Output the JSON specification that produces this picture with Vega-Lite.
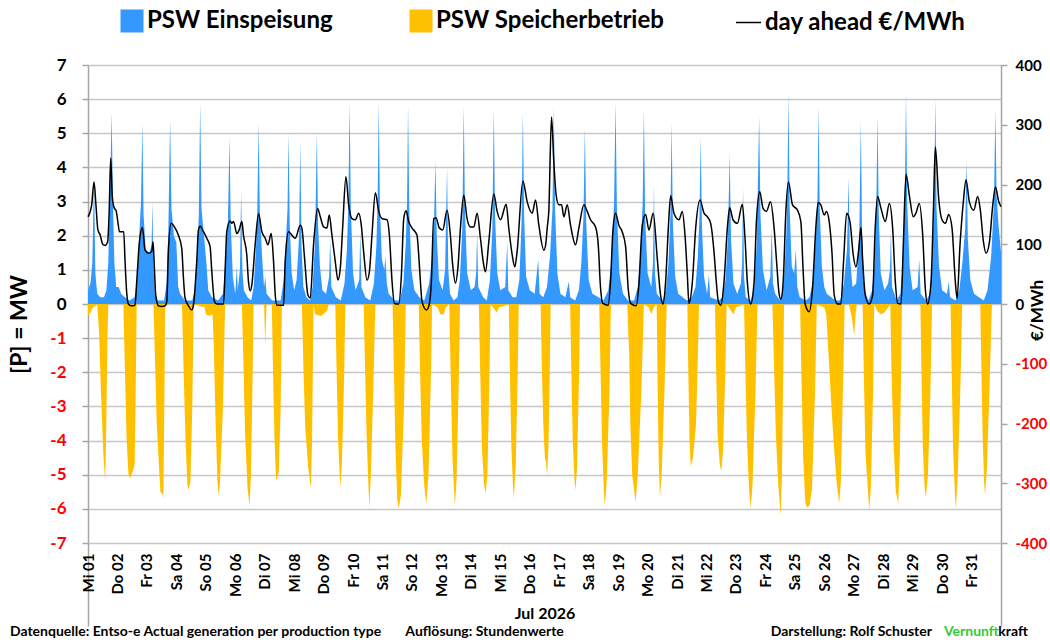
{
  "$schema": "https://vega.github.io/schema/vega-lite/v6.json",
  "description": "PSW Einspeisung / Speicherbetrieb und day-ahead Preis, Juli 2026, Stundenwerte",
  "width": 913,
  "height": 478,
  "autosize": {"type": "none"},
  "padding": {"left": 88, "top": 65, "right": 49, "bottom": 97},
  "background": "white",
  "config": {
    "view": {"stroke": null},
    "font": "Lato",
    "text": {"font": "Lato"}
  },
  "datasets": {
    "ein": [
      {"h":0,"v":0.4},{"h":2,"v":0.6},{"h":3.5,"v":1.2},{"h":4.9,"v":3.7},{"h":6,"v":0.9},{"h":7.5,"v":0.3},{"h":10,"v":0.2},{"h":13,"v":0.2},{"h":15,"v":0.4},{"h":16.5,"v":1.2},{"h":17.8,"v":3.0},{"h":19.3,"v":5.6},{"h":20.3,"v":3.0},{"h":21.5,"v":1.2},{"h":23,"v":0.5},
      {"h":25,"v":0.5},{"h":27,"v":0.3},{"h":30,"v":0.2},{"h":34,"v":0.1},{"h":38,"v":0.2},{"h":40,"v":0.7},{"h":41.5,"v":1.8},{"h":43.2,"v":3.0},{"h":44.3,"v":5.3},{"h":45.3,"v":2.6},{"h":47,"v":1.6},{"h":50,"v":1.5},{"h":51.8,"v":1.7},{"h":52.5,"v":3.0},{"h":53.2,"v":1.2},
      {"h":54.5,"v":0.3},{"h":57,"v":0.1},{"h":62,"v":0.1},{"h":64,"v":0.6},{"h":65.5,"v":2.2},{"h":66.9,"v":5.4},{"h":68,"v":2.8},{"h":70,"v":2.0},{"h":72,"v":1.8},{"h":73.5,"v":0.5},
      {"h":75,"v":0.3},{"h":79,"v":0.1},{"h":85,"v":0.1},{"h":87,"v":0.4},{"h":89,"v":1.4},{"h":90.3,"v":2.6},{"h":91.4,"v":5.9},{"h":92.5,"v":2.8},{"h":94.5,"v":2.0},{"h":96.5,"v":1.2},{"h":98,"v":0.4},
      {"h":101,"v":0.2},{"h":106,"v":0.1},{"h":110,"v":0.3},{"h":112,"v":1.2},{"h":114,"v":2.4},{"h":115.3,"v":4.9},{"h":116.3,"v":2.4},{"h":118,"v":0.8},{"h":120,"v":0.3},{"h":121.3,"v":1.1},{"h":122,"v":0.4},{"h":123.8,"v":1.0},{"h":124.8,"v":3.3},{"h":125.8,"v":1.0},{"h":127,"v":0.4},
      {"h":130,"v":0.2},{"h":133,"v":0.1},{"h":135,"v":0.5},{"h":137,"v":1.7},{"h":138,"v":2.8},{"h":139,"v":5.3},{"h":140,"v":2.7},{"h":142,"v":1.3},{"h":143.5,"v":0.5},{"h":144.5,"v":0.8},{"h":145.5,"v":0.3},
      {"h":150,"v":0.1},{"h":157,"v":0.1},{"h":159.5,"v":0.7},{"h":161.5,"v":2.0},{"h":162.6,"v":2.8},{"h":163.4,"v":5.0},{"h":164.4,"v":2.3},{"h":166,"v":0.9},{"h":168,"v":0.4},{"h":170,"v":0.7},{"h":172,"v":2.0},{"h":173,"v":4.75},{"h":174,"v":1.7},{"h":175.5,"v":0.5},
      {"h":178,"v":0.2},{"h":181,"v":0.1},{"h":183,"v":0.5},{"h":185,"v":1.8},{"h":186.5,"v":5.0},{"h":187.5,"v":2.3},{"h":189,"v":1.1},{"h":191,"v":0.4},{"h":194,"v":0.3},{"h":196.5,"v":0.8},{"h":197.4,"v":1.9},{"h":198.3,"v":0.5},
      {"h":202,"v":0.2},{"h":206,"v":0.1},{"h":209,"v":0.6},{"h":211,"v":1.6},{"h":212.2,"v":3.0},{"h":213.2,"v":5.9},{"h":214.2,"v":2.8},{"h":216,"v":0.9},{"h":218,"v":0.4},{"h":221,"v":0.7},{"h":221.9,"v":2.1},{"h":222.8,"v":0.5},
      {"h":226,"v":0.2},{"h":230,"v":0.1},{"h":233,"v":0.6},{"h":235,"v":1.7},{"h":236,"v":3.0},{"h":236.9,"v":5.9},{"h":237.9,"v":2.8},{"h":239.5,"v":1.3},{"h":241.5,"v":1.0},{"h":242.3,"v":1.4},{"h":243.5,"v":0.6},{"h":245,"v":0.3},
      {"h":250,"v":0.1},{"h":254,"v":0.1},{"h":257,"v":0.6},{"h":259,"v":1.8},{"h":260,"v":3.0},{"h":260.8,"v":5.8},{"h":261.8,"v":2.8},{"h":263.5,"v":1.0},{"h":266,"v":0.4},
      {"h":270,"v":0.2},{"h":274,"v":0.1},{"h":278,"v":0.6},{"h":280.5,"v":1.4},{"h":282,"v":2.4},{"h":283.1,"v":4.2},{"h":284.2,"v":2.0},{"h":286,"v":0.7},{"h":289,"v":0.4},{"h":291,"v":1.0},{"h":292.6,"v":4.0},{"h":293.6,"v":1.0},{"h":295,"v":0.3},
      {"h":298,"v":0.1},{"h":301,"v":0.2},{"h":303,"v":0.7},{"h":305,"v":2.2},{"h":306.2,"v":5.8},{"h":307.2,"v":2.7},{"h":309,"v":0.9},{"h":312,"v":0.4},{"h":315,"v":0.5},{"h":316.3,"v":0.9},{"h":317.1,"v":2.1},{"h":318,"v":0.5},
      {"h":322,"v":0.2},{"h":325,"v":0.1},{"h":327.5,"v":0.7},{"h":329.5,"v":2.2},{"h":330.7,"v":5.7},{"h":331.7,"v":2.6},{"h":333.5,"v":0.9},{"h":336,"v":0.4},{"h":340,"v":0.5},{"h":341.6,"v":1.8},{"h":342.5,"v":0.4},
      {"h":346,"v":0.2},{"h":349,"v":0.2},{"h":351.5,"v":0.7},{"h":353.3,"v":2.4},{"h":354.4,"v":5.6},{"h":355.4,"v":2.6},{"h":357,"v":0.8},{"h":360,"v":0.4},{"h":364,"v":0.3},{"h":366.9,"v":1.3},{"h":368,"v":0.3},
      {"h":371,"v":0.2},{"h":374,"v":0.5},{"h":376.5,"v":1.4},{"h":378.5,"v":2.8},{"h":379.6,"v":5.8},{"h":380.6,"v":2.8},{"h":382.5,"v":0.9},{"h":385,"v":0.3},{"h":389,"v":0.2},{"h":391.8,"v":0.65},{"h":393,"v":0.2},
      {"h":397,"v":0.1},{"h":400,"v":0.4},{"h":402,"v":1.2},{"h":403.8,"v":2.6},{"h":404.9,"v":5.15},{"h":406,"v":2.4},{"h":408,"v":0.7},{"h":411,"v":0.3},
      {"h":416,"v":0.2},{"h":420,"v":0.1},{"h":424,"v":0.4},{"h":426.5,"v":1.2},{"h":428.7,"v":3.0},{"h":429.9,"v":5.9},{"h":431,"v":2.8},{"h":433,"v":0.9},{"h":436,"v":0.3},
      {"h":440,"v":0.1},{"h":445,"v":0.1},{"h":448,"v":0.5},{"h":450.5,"v":1.6},{"h":452,"v":3.0},{"h":453,"v":5.7},{"h":454,"v":2.6},{"h":456,"v":0.9},{"h":459,"v":0.5},{"h":460.4,"v":1.2},{"h":461.2,"v":3.5},{"h":462,"v":0.9},{"h":463.5,"v":0.3},
      {"h":468,"v":0.1},{"h":471,"v":0.4},{"h":473,"v":1.2},{"h":474.6,"v":2.6},{"h":475.6,"v":5.3},{"h":476.6,"v":2.4},{"h":478.5,"v":0.8},{"h":481,"v":0.3},
      {"h":488,"v":0.1},{"h":492,"v":0.2},{"h":495,"v":0.5},{"h":497,"v":1.4},{"h":498.3,"v":2.6},{"h":499.3,"v":4.9},{"h":500.3,"v":2.3},{"h":502,"v":0.8},{"h":504.5,"v":0.3},{"h":506,"v":0.85},{"h":507,"v":0.2},
      {"h":514,"v":0.1},{"h":517,"v":0.2},{"h":519.5,"v":0.7},{"h":521.5,"v":2.0},{"h":522.9,"v":4.4},{"h":524,"v":1.9},{"h":526,"v":0.6},{"h":529,"v":0.3},{"h":532,"v":0.6},{"h":533,"v":1.2},{"h":533.8,"v":3.4},{"h":534.6,"v":0.8},{"h":536,"v":0.2},
      {"h":540,"v":0.1},{"h":543,"v":0.5},{"h":545,"v":1.8},{"h":546.9,"v":5.5},{"h":548,"v":2.6},{"h":550,"v":1.0},{"h":553,"v":0.4},{"h":556,"v":0.8},{"h":557.2,"v":2.2},{"h":558.2,"v":0.6},{"h":560,"v":0.3},
      {"h":564,"v":0.1},{"h":567,"v":0.6},{"h":569,"v":2.0},{"h":569.9,"v":3.2},{"h":570.8,"v":6.15},{"h":571.8,"v":2.8},{"h":573.5,"v":1.1},{"h":575.5,"v":0.9},{"h":576.8,"v":1.6},{"h":578,"v":0.5},{"h":580,"v":0.2},
      {"h":585,"v":0.1},{"h":588,"v":0.2},{"h":591,"v":0.7},{"h":593.5,"v":2.2},{"h":594.5,"v":3.2},{"h":595.3,"v":5.8},{"h":596.3,"v":2.8},{"h":598,"v":1.1},{"h":600,"v":0.5},{"h":602,"v":0.3},
      {"h":609,"v":0.1},{"h":613,"v":0.1},{"h":616,"v":0.6},{"h":618.5,"v":1.6},{"h":619.8,"v":3.7},{"h":620.8,"v":1.4},{"h":623,"v":0.5},{"h":626,"v":0.6},{"h":628.5,"v":2.0},{"h":629.8,"v":5.35},{"h":630.8,"v":2.0},{"h":632.5,"v":0.4},
      {"h":636,"v":0.1},{"h":639,"v":0.4},{"h":641,"v":1.2},{"h":642.3,"v":2.6},{"h":643.4,"v":5.5},{"h":644.4,"v":2.6},{"h":646,"v":0.9},{"h":649,"v":0.4},{"h":652,"v":0.6},{"h":653.5,"v":1.0},{"h":654.3,"v":2.1},{"h":655.2,"v":0.5},
      {"h":659,"v":0.1},{"h":662,"v":0.3},{"h":664,"v":1.2},{"h":665.6,"v":3.0},{"h":666.6,"v":6.15},{"h":667.6,"v":2.9},{"h":669.5,"v":1.1},{"h":672,"v":0.4},{"h":676,"v":0.5},{"h":677.4,"v":1.3},{"h":678.5,"v":0.3},
      {"h":683,"v":0.1},{"h":686,"v":0.3},{"h":688,"v":1.2},{"h":689.5,"v":3.0},{"h":690.5,"v":6.0},{"h":691.5,"v":2.8},{"h":693.5,"v":1.1},{"h":696,"v":0.4},{"h":700,"v":0.3},{"h":701.4,"v":0.65},{"h":702.5,"v":0.2},
      {"h":707,"v":0.1},{"h":710,"v":0.4},{"h":712.5,"v":1.2},{"h":714.8,"v":2.2},{"h":716,"v":4.2},{"h":717,"v":1.9},{"h":719,"v":0.7},{"h":722,"v":0.3},
      {"h":726,"v":0.2},{"h":730,"v":0.1},{"h":733,"v":0.4},{"h":736,"v":1.4},{"h":738.3,"v":3.0},{"h":739.4,"v":5.7},{"h":740.4,"v":3.2},{"h":742,"v":2.3},{"h":744,"v":1.5}
    ],
    "spe": [
      {"h":0,"v":-0.35},{"h":2,"v":-0.25},{"h":4,"v":-0.1},{"h":6.5,"v":-0.05},
      {"h":7.5,"v":0},{"h":9,"v":-0.8},{"h":10.5,"v":-2.5},{"h":12.5,"v":-4.4},{"h":14,"v":-5.2},{"h":14.8,"v":-3.8},{"h":15.8,"v":-1.0},{"h":16.6,"v":0},
      {"h":28.8,"v":0},{"h":30,"v":-1.8},{"h":31.5,"v":-4.0},{"h":33,"v":-5.0},{"h":34.3,"v":-5.1},{"h":36.5,"v":-4.9},{"h":38,"v":-4.7},{"h":39,"v":-2.0},{"h":39.7,"v":0},
      {"h":53.3,"v":0},{"h":54.5,"v":-1.5},{"h":56,"v":-3.5},{"h":59,"v":-5.5},{"h":60.5,"v":-5.55},{"h":61.4,"v":-5.7},{"h":62.2,"v":-3.0},{"h":62.8,"v":0},
      {"h":76.6,"v":0},{"h":77.8,"v":-1.8},{"h":79.5,"v":-4.0},{"h":81,"v":-5.3},{"h":81.8,"v":-5.45},{"h":83.5,"v":-5.2},{"h":85,"v":-3.0},{"h":86.1,"v":0},
      {"h":95,"v":-0.1},{"h":96,"v":-0.3},{"h":99,"v":-0.35},{"h":101.5,"v":-0.3},{"h":102.5,"v":-1.2},{"h":104,"v":-3.5},{"h":105.5,"v":-5.2},{"h":106.3,"v":-5.6},{"h":107.5,"v":-5.3},{"h":110,"v":-3.0},{"h":111.7,"v":0},
      {"h":125.4,"v":0},{"h":126.5,"v":-1.5},{"h":128,"v":-3.8},{"h":130,"v":-5.4},{"h":131.6,"v":-5.9},{"h":132.8,"v":-5.0},{"h":134,"v":-2.5},{"h":134.9,"v":0},
      {"h":143.5,"v":0},{"h":144.4,"v":-1.2},{"h":145.5,"v":0},
      {"h":149.8,"v":0},{"h":150.8,"v":-2.0},{"h":152,"v":-4.0},{"h":153.2,"v":-5.1},{"h":153.9,"v":-5.15},{"h":155.5,"v":-4.9},{"h":157,"v":-3.0},{"h":158,"v":0},
      {"h":174.3,"v":0},{"h":175.5,"v":-1.8},{"h":177,"v":-3.6},{"h":179.5,"v":-4.8},{"h":181.6,"v":-5.4},{"h":182.6,"v":-4.0},{"h":183.8,"v":0},{"h":185,"v":-0.3},{"h":190,"v":-0.35},{"h":195,"v":-0.2},{"h":196,"v":0},
      {"h":201.5,"v":0},{"h":202.5,"v":-1.8},{"h":203.8,"v":-4.0},{"h":205.6,"v":-5.4},{"h":207,"v":-4.6},{"h":208.8,"v":-2.0},{"h":209.7,"v":0},
      {"h":224.6,"v":0},{"h":225.6,"v":-1.6},{"h":227,"v":-3.8},{"h":228.5,"v":-5.3},{"h":229.3,"v":-5.95},{"h":230.5,"v":-5.0},{"h":232.5,"v":-2.5},{"h":234.1,"v":0},
      {"h":248.2,"v":0},{"h":249.2,"v":-1.8},{"h":250.5,"v":-4.2},{"h":252,"v":-5.7},{"h":253.2,"v":-6.0},{"h":255,"v":-5.6},{"h":257.5,"v":-3.0},{"h":259,"v":0},
      {"h":269.5,"v":0},{"h":270.5,"v":-1.8},{"h":272,"v":-4.0},{"h":274,"v":-5.3},{"h":275.7,"v":-5.85},{"h":277.5,"v":-5.0},{"h":279.5,"v":-2.0},{"h":280.4,"v":0},
      {"h":285,"v":-0.1},{"h":287,"v":-0.3},{"h":290,"v":-0.3},{"h":291.5,"v":-0.1},{"h":294.4,"v":0},{"h":295.5,"v":-2.0},{"h":297,"v":-4.5},{"h":298.9,"v":-5.9},{"h":300.3,"v":-5.2},{"h":302.3,"v":-2.0},{"h":303.1,"v":0},
      {"h":318.5,"v":0},{"h":319.5,"v":-1.8},{"h":321,"v":-4.2},{"h":322.8,"v":-5.3},{"h":323.9,"v":-5.55},{"h":325.5,"v":-5.0},{"h":327.2,"v":-2.0},{"h":328,"v":0},{"h":331,"v":-0.15},{"h":333,"v":-0.25},{"h":335,"v":-0.1},
      {"h":342.9,"v":0},{"h":343.8,"v":-2.0},{"h":345,"v":-4.2},{"h":346.3,"v":-5.3},{"h":347,"v":-5.7},{"h":348.5,"v":-4.8},{"h":350.2,"v":-2.0},{"h":351,"v":0},
      {"h":368.8,"v":0},{"h":369.8,"v":-1.8},{"h":371,"v":-3.5},{"h":372.3,"v":-4.5},{"h":373,"v":-4.6},{"h":374.2,"v":-5.0},{"h":375.2,"v":-4.2},{"h":376.3,"v":-2.0},{"h":377,"v":0},
      {"h":392.9,"v":0},{"h":393.8,"v":-1.8},{"h":395,"v":-4.0},{"h":396.5,"v":-5.2},{"h":397.3,"v":-5.45},{"h":398.5,"v":-4.8},{"h":400.2,"v":-2.0},{"h":401,"v":0},
      {"h":416.6,"v":0},{"h":417.6,"v":-1.8},{"h":419,"v":-4.2},{"h":420.5,"v":-5.6},{"h":421.2,"v":-5.9},{"h":422.7,"v":-5.2},{"h":425,"v":-2.5},{"h":426.1,"v":0},
      {"h":439.4,"v":0},{"h":440.2,"v":-0.8},{"h":441,"v":-1.4},{"h":442,"v":-3.6},{"h":443.5,"v":-5.0},{"h":445.5,"v":-5.6},{"h":446.2,"v":-5.8},{"h":448,"v":-5.0},{"h":451,"v":-2.5},{"h":453,"v":0},
      {"h":457,"v":-0.1},{"h":459,"v":-0.3},{"h":461,"v":-0.1},{"h":463.4,"v":0},{"h":464.2,"v":-2.5},{"h":465.2,"v":-4.8},{"h":466.1,"v":-5.65},{"h":467.5,"v":-5.0},{"h":469.8,"v":-2.5},{"h":471.6,"v":0},
      {"h":488.4,"v":0},{"h":489.2,"v":-2.0},{"h":490.2,"v":-4.0},{"h":491.1,"v":-4.75},{"h":493,"v":-4.5},{"h":495.5,"v":-3.5},{"h":497,"v":-1.5},{"h":497.9,"v":0},
      {"h":510.9,"v":0},{"h":511.8,"v":-1.8},{"h":513,"v":-3.8},{"h":514.8,"v":-4.7},{"h":516.1,"v":-4.9},{"h":517.5,"v":-4.3},{"h":519.5,"v":-1.8},{"h":520.4,"v":0},{"h":524,"v":-0.2},{"h":526,"v":-0.3},{"h":528,"v":-0.1},
      {"h":534.6,"v":0},{"h":535.6,"v":-1.8},{"h":537,"v":-4.0},{"h":538.8,"v":-5.5},{"h":540.1,"v":-6.0},{"h":541.5,"v":-5.3},{"h":544,"v":-2.5},{"h":545.5,"v":0},
      {"h":557.7,"v":0},{"h":558.8,"v":-1.5},{"h":560.5,"v":-3.8},{"h":562.5,"v":-5.3},{"h":564.5,"v":-6.2},{"h":565.5,"v":-5.0},{"h":566.5,"v":-2.0},{"h":567.2,"v":0},
      {"h":580.3,"v":0},{"h":581.3,"v":-2.0},{"h":582.8,"v":-4.5},{"h":584.5,"v":-5.8},{"h":585.7,"v":-5.95},{"h":588,"v":-5.9},{"h":590,"v":-5.4},{"h":592.5,"v":-2.5},{"h":593.9,"v":0},
      {"h":600,"v":-0.1},{"h":601.6,"v":-0.3},{"h":603.5,"v":-1.5},{"h":605.5,"v":-2.8},{"h":607.5,"v":-4.0},{"h":610,"v":-5.2},{"h":612.1,"v":-5.85},{"h":613.5,"v":-5.2},{"h":615.5,"v":-2.0},{"h":616.6,"v":0},
      {"h":620,"v":0},{"h":622.5,"v":-0.4},{"h":624.4,"v":-0.93},{"h":625.5,"v":-0.3},{"h":626.5,"v":0},
      {"h":631.2,"v":0},{"h":632.2,"v":-2.0},{"h":633.5,"v":-4.3},{"h":634.7,"v":-5.0},{"h":636.6,"v":-6.05},{"h":638,"v":-5.3},{"h":639.8,"v":-2.5},{"h":640.7,"v":0},{"h":643,"v":-0.2},{"h":646,"v":-0.3},{"h":649,"v":-0.25},{"h":652,"v":-0.1},
      {"h":653.8,"v":0},{"h":654.8,"v":-2.0},{"h":656.3,"v":-4.0},{"h":658.3,"v":-5.5},{"h":660.3,"v":-5.85},{"h":661.5,"v":-4.5},{"h":662.6,"v":-2.0},{"h":663.3,"v":0},
      {"h":678.3,"v":0},{"h":679.2,"v":-2.0},{"h":680.3,"v":-4.2},{"h":681.8,"v":-5.4},{"h":682.8,"v":-5.65},{"h":684.5,"v":-5.0},{"h":686.5,"v":-2.5},{"h":687.8,"v":0},
      {"h":702.9,"v":0},{"h":703.8,"v":-2.0},{"h":705,"v":-4.3},{"h":706.5,"v":-5.6},{"h":707.3,"v":-6.0},{"h":708.8,"v":-5.0},{"h":711,"v":-2.3},{"h":712.4,"v":0},
      {"h":727.1,"v":0},{"h":728,"v":-1.8},{"h":729,"v":-3.8},{"h":730.2,"v":-5.2},{"h":731,"v":-5.6},{"h":732.5,"v":-4.8},{"h":735,"v":-2.0},{"h":736.6,"v":0},{"h":744,"v":0}
    ],
    "preis": [
      {"h":0,"p":146},{"h":3,"p":166},{"h":4.9,"p":204},{"h":6.5,"p":165},{"h":8,"p":125},{"h":10,"p":115},{"h":12,"p":100},{"h":14,"p":98},{"h":16,"p":104},{"h":17.2,"p":150},{"h":18.5,"p":244},{"h":19.8,"p":180},{"h":21.5,"p":160},{"h":22.8,"p":157},
      {"h":24.5,"p":135},{"h":25.6,"p":121},{"h":29.1,"p":121},{"h":30.2,"p":71},{"h":31.5,"p":20},{"h":32.9,"p":0},{"h":35,"p":-3},{"h":38.3,"p":-2},{"h":39.7,"p":37},{"h":41.9,"p":104},{"h":44.3,"p":128},{"h":46.5,"p":90},
      {"h":49.2,"p":85},{"h":51.9,"p":88},{"h":53,"p":104},{"h":54.1,"p":60},{"h":55.2,"p":15},{"h":57.4,"p":-3},{"h":60,"p":-4},{"h":62.8,"p":-3},{"h":64.2,"p":4},{"h":65.5,"p":88},{"h":67.7,"p":135},{"h":71,"p":127},
      {"h":73.7,"p":115},{"h":76.4,"p":93},{"h":77.8,"p":43},{"h":79.1,"p":10},{"h":81.9,"p":-3},{"h":84.6,"p":-10},{"h":85.9,"p":-2},{"h":88.6,"p":71},{"h":90,"p":124},{"h":91.4,"p":130},{"h":94.1,"p":121},
      {"h":96.8,"p":110},{"h":99.5,"p":96},{"h":100.9,"p":54},{"h":103.1,"p":4},{"h":105,"p":0},{"h":110.4,"p":0},{"h":111.8,"p":60},{"h":113.1,"p":121},{"h":115.8,"p":139},{"h":117.2,"p":135},{"h":118.6,"p":138},
      {"h":121.3,"p":118},{"h":123.2,"p":124},{"h":125.4,"p":138},{"h":126.7,"p":115},{"h":129.4,"p":82},{"h":130.8,"p":37},{"h":132.2,"p":22},{"h":133.5,"p":32},{"h":136.2,"p":99},{"h":139,"p":151},{"h":141.7,"p":121},
      {"h":144.4,"p":110},{"h":146.6,"p":99},{"h":149.3,"p":118},{"h":151.2,"p":71},{"h":152.6,"p":15},{"h":153.9,"p":-2},{"h":159.4,"p":-2},{"h":160.7,"p":71},{"h":163.4,"p":121},{"h":166.2,"p":115},
      {"h":168.9,"p":110},{"h":173,"p":132},{"h":174.3,"p":127},{"h":176.5,"p":76},{"h":179.2,"p":15},{"h":181.1,"p":10},{"h":183.8,"p":99},{"h":187.1,"p":160},{"h":189.3,"p":146},
      {"h":192,"p":129},{"h":194.7,"p":127},{"h":196.6,"p":149},{"h":198.8,"p":115},{"h":201.5,"p":71},{"h":203.7,"p":40},{"h":205.6,"p":60},{"h":207.5,"p":127},{"h":210.2,"p":213},{"h":212.4,"p":166},{"h":215.1,"p":143},
      {"h":217.8,"p":141},{"h":220.6,"p":152},{"h":222.7,"p":132},{"h":224.6,"p":88},{"h":227.4,"p":40},{"h":229.3,"p":54},{"h":231.4,"p":115},{"h":234.2,"p":186},{"h":236.9,"p":155},{"h":239.6,"p":143},
      {"h":243.7,"p":141},{"h":245.6,"p":115},{"h":247.8,"p":37},{"h":249.7,"p":1},{"h":253.2,"p":0},{"h":255.4,"p":49},{"h":257.3,"p":143},{"h":259.2,"p":156},{"h":261.3,"p":138},{"h":264.1,"p":127},
      {"h":268.1,"p":115},{"h":269.5,"p":82},{"h":270.9,"p":37},{"h":272.2,"p":4},{"h":275.8,"p":-10},{"h":277.7,"p":-4},{"h":279.8,"p":37},{"h":281.7,"p":143},{"h":283.6,"p":144},{"h":286.4,"p":127},
      {"h":289.1,"p":124},{"h":292.6,"p":157},{"h":295.3,"p":115},{"h":297.2,"p":65},{"h":299.4,"p":35},{"h":301.6,"p":65},{"h":303.5,"p":127},{"h":306.2,"p":182},{"h":308.9,"p":143},{"h":311.7,"p":129},
      {"h":314.4,"p":129},{"h":317.1,"p":152},{"h":319.8,"p":110},{"h":322.5,"p":65},{"h":323.9,"p":54},{"h":326.6,"p":104},{"h":330.7,"p":184},{"h":333.4,"p":155},{"h":336.1,"p":141},
      {"h":340.8,"p":167},{"h":342.9,"p":127},{"h":345.7,"p":82},{"h":347.8,"p":62},{"h":349.7,"p":88},{"h":354.4,"p":206},{"h":357.9,"p":171},{"h":362,"p":152},{"h":364.7,"p":174},{"h":367.4,"p":132},
      {"h":371.5,"p":90},{"h":373,"p":100},{"h":374.2,"p":127},{"h":375.5,"p":155},{"h":377.7,"p":313},{"h":379.6,"p":238},{"h":381.5,"p":182},{"h":383.7,"p":166},{"h":385.9,"p":166},{"h":387.8,"p":146},
      {"h":390.5,"p":166},{"h":393.2,"p":132},{"h":397.3,"p":99},{"h":400,"p":127},{"h":404.1,"p":166},{"h":406.8,"p":155},{"h":409.5,"p":141},{"h":413.6,"p":129},{"h":415.8,"p":99},{"h":417.7,"p":26},
      {"h":419.6,"p":1},{"h":423.9,"p":-2},{"h":425.8,"p":37},{"h":427.7,"p":121},{"h":429.9,"p":152},{"h":432.6,"p":132},{"h":435.3,"p":121},{"h":438.1,"p":96},{"h":440.2,"p":26},{"h":442.2,"p":1},
      {"h":446.8,"p":-3},{"h":448.9,"p":32},{"h":451.7,"p":132},{"h":454.4,"p":150},{"h":457.1,"p":124},{"h":460.6,"p":152},{"h":463.9,"p":76},{"h":466.6,"p":15},{"h":468.5,"p":0},{"h":470.7,"p":37},
      {"h":472.9,"p":127},{"h":474.8,"p":181},{"h":477.5,"p":152},{"h":481.6,"p":141},{"h":484.3,"p":155},{"h":486.5,"p":115},{"h":488.4,"p":49},{"h":489.7,"p":1},{"h":492.5,"p":37},{"h":495.2,"p":127},
      {"h":498.7,"p":174},{"h":502,"p":152},{"h":504.7,"p":146},{"h":507.4,"p":135},{"h":510.1,"p":88},{"h":512,"p":37},{"h":513.7,"p":4},{"h":515.6,"p":-2},{"h":518.3,"p":37},{"h":521,"p":127},
      {"h":522.9,"p":161},{"h":525.6,"p":141},{"h":529.2,"p":135},{"h":533.2,"p":167},{"h":535.4,"p":110},{"h":537.3,"p":37},{"h":540,"p":0},{"h":542.8,"p":37},{"h":544.7,"p":138},{"h":547.4,"p":188},
      {"h":550.1,"p":160},{"h":552.8,"p":155},{"h":556.2,"p":171},{"h":559.1,"p":127},{"h":561.5,"p":60},{"h":563,"p":20},{"h":564.6,"p":8},{"h":566.5,"p":37},{"h":568.7,"p":155},{"h":570.8,"p":204},
      {"h":574.1,"p":166},{"h":578.2,"p":157},{"h":580.9,"p":138},{"h":582.8,"p":54},{"h":584.4,"p":0},{"h":587.7,"p":-13},{"h":590.4,"p":26},{"h":593.1,"p":127},{"h":595,"p":170},{"h":597.2,"p":166},
      {"h":599.9,"p":149},{"h":601.8,"p":155},{"h":604,"p":138},{"h":606.2,"p":88},{"h":608.1,"p":15},{"h":610.8,"p":0},{"h":613.5,"p":0},{"h":615.7,"p":71},{"h":618.2,"p":152},{"h":620.9,"p":138},
      {"h":623.6,"p":82},{"h":625.8,"p":62},{"h":627.9,"p":88},{"h":629.9,"p":128},{"h":631.2,"p":76},{"h":633.4,"p":15},{"h":636.6,"p":0},{"h":639.4,"p":15},{"h":641.5,"p":127},{"h":643.4,"p":180},
      {"h":646.2,"p":160},{"h":649.7,"p":138},{"h":653,"p":168},{"h":655.7,"p":127},{"h":657.9,"p":37},{"h":659.8,"p":1},{"h":662.5,"p":0},{"h":664.4,"p":99},{"h":666.6,"p":217},{"h":669.3,"p":182},
      {"h":672.5,"p":146},{"h":674.7,"p":152},{"h":677.4,"p":168},{"h":680.2,"p":115},{"h":682.3,"p":26},{"h":684.2,"p":0},{"h":687,"p":37},{"h":688.9,"p":155},{"h":690.5,"p":263},{"h":693.2,"p":177},
      {"h":695.9,"p":141},{"h":698.7,"p":135},{"h":701.4,"p":150},{"h":704.1,"p":127},{"h":706.8,"p":37},{"h":708.2,"p":9},{"h":710.6,"p":99},{"h":713.3,"p":171},{"h":715.5,"p":208},{"h":718.2,"p":171},
      {"h":721.8,"p":157},{"h":725,"p":180},{"h":727,"p":160},{"h":729.7,"p":104},{"h":731.8,"p":85},{"h":734.6,"p":104},{"h":737.3,"p":166},{"h":739.5,"p":196},{"h":742.2,"p":171},{"h":744,"p":163}
    ]
  },
  "layer": [
    {
      "layer": [
        {
          "data": {"name": "ein"},
          "mark": {"type": "area", "interpolate": "linear"},
          "encoding": {
            "x": {
              "field": "h",
              "type": "quantitative",
              "scale": {"domain": [0, 744], "nice": false, "zero": false},
              "axis": {
                "title": "Jul 2026",
                "titleFontSize": 16,
                "titleFontWeight": "bold",
                "titleColor": "black",
                "titleY": 75,
                "titleBaseline": "alphabetic",
                "values": [0,24,48,72,96,120,144,168,192,216,240,264,288,312,336,360,384,408,432,456,480,504,528,552,576,600,624,648,672,696,720,744],
                "tickCount": 100,
                "labelExpr": "datum.value >= 744 ? '' : ['Mi','Do','Fr','Sa','So','Mo','Di'][floor(datum.value / 24) % 7] + ' ' + (datum.value / 24 + 1 < 10 ? '0' : '') + (datum.value / 24 + 1)",
                "labelAngle": 270,
                "labelFontSize": 15,
                "labelFontWeight": "bold",
                "labelColor": "black",
                "labelPadding": -73,
                "labelOverlap": false,
                "labelFlush": false,
                "domain": false,
                "grid": false,
                "ticks": true,
                "tickSize": 83,
                "tickWidth": 1.5,
                "tickColor": {"condition": {"test": "datum.value == 0 || datum.value == 744", "value": "#a6a6a6"}, "value": "transparent"}
              }
            },
            "y": {
              "field": "v",
              "type": "quantitative",
              "scale": {"domain": [-7, 7], "nice": false},
              "axis": {
                "title": "[P]  = MW",
                "titleFontSize": 23,
                "titleFontWeight": "bold",
                "titleColor": "black",
                "titleAngle": 270,
                "titleAlign": "center",
                "titleBaseline": "middle",
                "titleX": -69,
                "titleY": 259,
                "values": [-7,-6,-5,-4,-3,-2,-1,0,1,2,3,4,5,6,7],
                "tickCount": 100,
                "labelExpr": "'' + datum.value",
                "labelFontSize": 17,
                "labelFontWeight": "bold",
                "labelColor": {"condition": {"test": "datum.value < 0", "value": "#ff0000"}, "value": "black"},
                "labelPadding": 16,
                "labelOverlap": false,
                "grid": true,
                "gridColor": "#c6c6c6",
                "gridWidth": 1.5,
                "domainColor": "#a6a6a6",
                "domainWidth": 1.5,
                "tickColor": "#a6a6a6",
                "tickSize": 6,
                "tickWidth": 1.5
              }
            },
            "fill": {
              "datum": "PSW Einspeisung",
              "type": "nominal",
              "scale": {"domain": ["PSW Einspeisung", "PSW Speicherbetrieb"], "range": ["#3399ff", "#ffc000"]},
              "legend": {
                "title": null,
                "orient": "none",
                "legendX": 32,
                "legendY": -56,
                "direction": "horizontal",
                "symbolType": "square",
                "symbolSize": 529,
                "symbolStrokeWidth": 0,
                "labelFontSize": 24,
                "labelFontWeight": "bold",
                "labelColor": "black",
                "labelLimit": 400,
                "labelOffset": 3,
                "columnPadding": 76
              }
            }
          }
        },
        {
          "data": {"name": "spe"},
          "mark": {"type": "area", "interpolate": "linear"},
          "encoding": {
            "x": {"field": "h", "type": "quantitative"},
            "y": {"field": "v", "type": "quantitative"},
            "fill": {"datum": "PSW Speicherbetrieb", "type": "nominal"}
          }
        },
        {
          "data": {"values": [{}]},
          "mark": {"type": "text", "align": "left", "baseline": "alphabetic", "fontSize": 14, "fontWeight": "bold", "color": "black"},
          "encoding": {
            "x": {"datum": -63.6, "type": "quantitative"},
            "y": {"datum": -9.72, "type": "quantitative"},
            "text": {"value": "Datenquelle: Entso-e  Actual generation per production type"}
          }
        },
        {
          "data": {"values": [{}]},
          "mark": {"type": "text", "align": "left", "baseline": "alphabetic", "fontSize": 14, "fontWeight": "bold", "color": "black"},
          "encoding": {
            "x": {"datum": 258.6, "type": "quantitative"},
            "y": {"datum": -9.72, "type": "quantitative"},
            "text": {"value": "Auflösung: Stundenwerte"}
          }
        },
        {
          "data": {"values": [{}]},
          "mark": {"type": "text", "align": "left", "baseline": "alphabetic", "fontSize": 14, "fontWeight": "bold", "color": "black"},
          "encoding": {
            "x": {"datum": 556.4, "type": "quantitative"},
            "y": {"datum": -9.72, "type": "quantitative"},
            "text": {"value": "Darstellung:  Rolf Schuster"}
          }
        },
        {
          "data": {"values": [{}]},
          "mark": {"type": "text", "align": "left", "baseline": "alphabetic", "fontSize": 14, "fontWeight": "bold", "color": "#33cc33"},
          "encoding": {
            "x": {"datum": 697.5, "type": "quantitative"},
            "y": {"datum": -9.72, "type": "quantitative"},
            "text": {"value": "Vernunft"}
          }
        },
        {
          "data": {"values": [{}]},
          "mark": {"type": "text", "align": "left", "baseline": "alphabetic", "fontSize": 14, "fontWeight": "bold", "color": "black"},
          "encoding": {
            "x": {"datum": 741.8, "type": "quantitative"},
            "y": {"datum": -9.72, "type": "quantitative"},
            "text": {"value": "kraft"}
          }
        }
      ]
    },
    {
      "data": {"name": "preis"},
      "mark": {"type": "line", "interpolate": "monotone", "strokeWidth": 1.5},
      "encoding": {
        "x": {"field": "h", "type": "quantitative"},
        "y": {
          "field": "p",
          "type": "quantitative",
          "scale": {"domain": [-400, 400], "nice": false},
          "axis": {
            "orient": "right",
            "title": "€/MWh",
            "titleFontSize": 17,
            "titleFontWeight": "bold",
            "titleColor": "black",
            "titleAngle": 270,
            "titleAlign": "center",
            "titleBaseline": "middle",
            "titleX": 36,
            "titleY": 245,
            "values": [-400,-300,-200,-100,0,100,200,300,400],
            "tickCount": 100,
            "labelExpr": "'' + datum.value",
            "labelFontSize": 15,
            "labelFontWeight": "bold",
            "labelColor": {"condition": {"test": "datum.value < 0", "value": "#ff0000"}, "value": "black"},
            "labelPadding": 8,
            "labelOverlap": false,
            "grid": false,
            "domainColor": "#a6a6a6",
            "domainWidth": 1.5,
            "tickColor": "#a6a6a6",
            "tickSize": 6,
            "tickWidth": 1.5
          }
        },
        "stroke": {
          "datum": "day ahead €/MWh",
          "type": "nominal",
          "scale": {"range": ["black"]},
          "legend": {
            "title": null,
            "orient": "none",
            "legendX": 647,
            "legendY": -56,
            "symbolType": "stroke",
            "symbolSize": 625,
            "symbolStrokeWidth": 1.5,
            "labelFontSize": 24,
            "labelFontWeight": "bold",
            "labelColor": "black",
            "labelLimit": 400,
            "labelOffset": 3
          }
        }
      }
    }
  ],
  "resolve": {"scale": {"y": "independent"}}
}
